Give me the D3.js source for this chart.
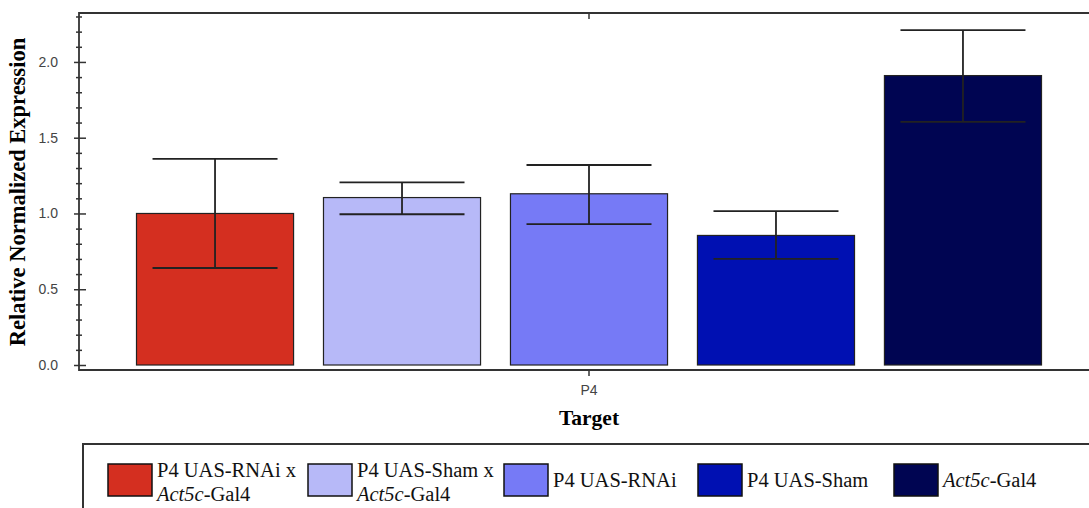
<!DOCTYPE html>
<html>
<head>
<meta charset="utf-8">
<script src="https://cdn.jsdelivr.net/npm/d3@7"></script>
<style>
  body { margin: 0; background: #fff; }
  svg { display: block; }
</style>
</head>
<body>
<div id="chart"></div>
<script>
// data
var grupos = ["P4"];
var series = ["P4 UAS-RNAi x Act5c-Gal4", "P4 UAS-Sham x Act5c-Gal4", "P4 UAS-RNAi", "P4 UAS-Sham", "Act5c-Gal4"];
var valores = [1.00, 1.105, 1.13, 0.855, 1.91];
var erroSup = [1.36, 1.205, 1.32, 1.015, 2.21];
var erroInf = [0.64, 0.995, 0.93, 0.70, 1.605];
var cores = ["#d42f20", "#b7b9f8", "#767af6", "#0010b2", "#000552"];
var ticksY = [0, 0.5, 1.0, 1.5, 2.0];
var ticksMenores = [0.1, 0.2, 0.3, 0.4, 0.6, 0.7, 0.8, 0.9, 1.1, 1.2, 1.3, 1.4, 1.6, 1.7, 1.8, 1.9, 2.1, 2.2, 2.3];

// legend labels: [first line, italic part, rest]
var legenda = [
  {l1: "P4 UAS-RNAi x", it: "Act5c", rest: "-Gal4"},
  {l1: "P4 UAS-Sham x", it: "Act5c", rest: "-Gal4"},
  {l1: "P4 UAS-RNAi"},
  {l1: "P4 UAS-Sham"},
  {l1: null, it: "Act5c", rest: "-Gal4"}
];
var legendaX = [108, 308, 504, 698, 894];

var W = 1089, H = 508;
var margin = {left: 79, top: 13};
var w = 1020, h = 357;

var svg = d3.select("#chart").append("svg")
  .attr("width", W).attr("height", H);

var g = svg.append("g")
  .attr("transform", "translate(" + margin.left + "," + margin.top + ")");

/*
 * scales
 */
var x0 = d3.scaleBand().domain(grupos).range([0, w]).paddingInner(0).paddingOuter(0.0455);
var x1 = d3.scaleBand().domain(series).range([0, x0.bandwidth()]).paddingInner(0.16).paddingOuter(0.08);
var y = d3.scaleLinear().domain([-0.033, 2.323]).range([h, 0]);

/*
 * bars
 */
var grupo = g.append("g").attr("transform", "translate(" + x0("P4") + ",0)");

grupo.selectAll("rect")
  .data(series)
  .enter()
    .append("rect")
    .attr("x", d => x1(d))
    .attr("width", x1.bandwidth())
    .attr("y", (d, i) => y(valores[i]))
    .attr("height", (d, i) => y(0) - y(valores[i]))
    .attr("fill", (d, i) => cores[i])
    .attr("stroke", "#222")
    .attr("stroke-width", 1.2);

// error bars
var capW = 125;
var eb = grupo.selectAll("g.err")
  .data(series)
  .enter()
    .append("g").attr("class", "err")
    .attr("stroke", "#222")
    .attr("stroke-width", 1.8);
eb.append("line")
  .attr("x1", d => x1(d) + x1.bandwidth() / 2)
  .attr("x2", d => x1(d) + x1.bandwidth() / 2)
  .attr("y1", (d, i) => y(erroSup[i]))
  .attr("y2", (d, i) => y(erroInf[i]));
eb.append("line")
  .attr("x1", d => x1(d) + x1.bandwidth() / 2 - capW / 2)
  .attr("x2", d => x1(d) + x1.bandwidth() / 2 + capW / 2)
  .attr("y1", (d, i) => y(erroSup[i]))
  .attr("y2", (d, i) => y(erroSup[i]));
eb.append("line")
  .attr("x1", d => x1(d) + x1.bandwidth() / 2 - capW / 2)
  .attr("x2", d => x1(d) + x1.bandwidth() / 2 + capW / 2)
  .attr("y1", (d, i) => y(erroInf[i]))
  .attr("y2", (d, i) => y(erroInf[i]));

/*
 * axes
 */
function estilo(sel) {
  sel.select(".domain").remove();
  sel.selectAll("line").attr("stroke", "#333").attr("stroke-width", 1.5);
  sel.selectAll("text").attr("fill", "#444")
    .style("font-family", "'Liberation Sans', Arial, sans-serif").style("font-size", "14px");
}

// y: major ticks cross the axis, minor ones too
g.append("g")
  .call(d3.axisLeft(y).tickValues(ticksY).tickFormat(d3.format(".1f")).tickSize(5).tickPadding(16))
  .call(estilo);
g.append("g")
  .call(d3.axisRight(y).tickValues(ticksY).tickFormat("").tickSize(7))
  .call(estilo);
g.append("g")
  .call(d3.axisLeft(y).tickValues(ticksMenores).tickFormat("").tickSize(3))
  .call(estilo);
g.append("g")
  .call(d3.axisRight(y).tickValues(ticksMenores).tickFormat("").tickSize(3))
  .call(estilo);

// x axis
g.append("g")
  .attr("transform", "translate(0," + h + ")")
  .call(d3.axisBottom(x0).tickSize(6).tickPadding(9))
  .call(estilo);
g.append("g")
  .call(d3.axisTop(x0).tickSize(-6).tickFormat(""))
  .call(estilo);

// frame
g.append("path")
  .attr("d", "M" + (w + 30) + ",0H0V" + h + "H" + (w + 30))
  .attr("fill", "none")
  .attr("stroke", "#333")
  .attr("stroke-width", 1.8);

// axis titles
svg.append("text")
  .attr("transform", "translate(25," + (margin.top + 179) + ") rotate(-90)")
  .attr("text-anchor", "middle")
  .style("font-family", "'Liberation Serif', 'Times New Roman', serif")
  .style("font-weight", "bold")
  .style("font-size", "22.5px")
  .text("Relative Normalized Expression");

svg.append("text")
  .attr("x", margin.left + x0("P4") + x0.bandwidth() / 2)
  .attr("y", 425)
  .attr("text-anchor", "middle")
  .style("font-family", "'Liberation Serif', 'Times New Roman', serif")
  .style("font-weight", "bold")
  .style("font-size", "21.5px")
  .text("Target");

/*
 * legend
 */
svg.append("rect")
  .attr("x", 83).attr("y", 444)
  .attr("width", 1100).attr("height", 100)
  .attr("fill", "none")
  .attr("stroke", "#333")
  .attr("stroke-width", 2);

var leg = svg.selectAll("g.leg")
  .data(legenda)
  .enter()
    .append("g").attr("class", "leg")
    .attr("transform", (d, i) => "translate(" + legendaX[i] + ",464)");

leg.append("rect")
  .attr("width", 44).attr("height", 32)
  .attr("fill", (d, i) => cores[i])
  .attr("stroke", "#111")
  .attr("stroke-width", 1.5);

var txt = leg.append("text")
  .attr("x", 49)
  .style("font-family", "'Liberation Serif', 'Times New Roman', serif")
  .style("font-size", "20.5px")
  .attr("fill", "#111");

txt.each(function(d) {
  var t = d3.select(this);
  if (d.l1 && d.it) {
    t.append("tspan").attr("x", 49).attr("y", 13).text(d.l1);
    var s = t.append("tspan").attr("x", 49).attr("y", 37);
    s.append("tspan").style("font-style", "italic").text(d.it);
    s.append("tspan").text(d.rest);
  } else if (d.l1) {
    t.append("tspan").attr("x", 49).attr("y", 23).text(d.l1);
  } else {
    t.append("tspan").attr("x", 49).attr("y", 23).style("font-style", "italic").text(d.it);
    t.append("tspan").text(d.rest);
  }
});
</script>
</body>
</html>
